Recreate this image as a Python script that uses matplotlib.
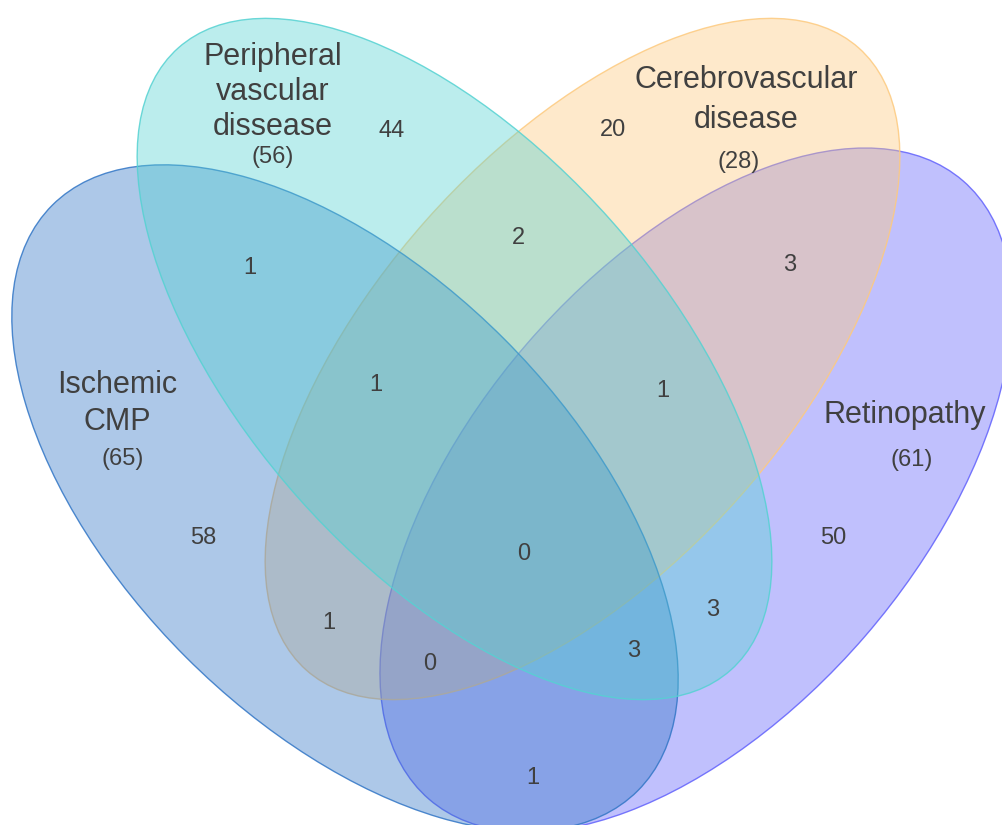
import matplotlib
matplotlib.use('Agg')
import matplotlib.pyplot as plt
from matplotlib.patches import Ellipse
from matplotlib.colors import to_rgba

plt.rcParams['font.family'] = ['Liberation Sans', 'DejaVu Sans']

# data
set_names = [['Ischemic', 'CMP'], ['Peripheral', 'vascular', 'dissease'],
             ['Cerebrovascular', 'disease'], ['Retinopathy']]
set_totals = [65, 56, 28, 61]
# I=Ischemic CMP, P=Peripheral, C=Cerebrovascular, R=Retinopathy
region_keys = ['I', 'P', 'C', 'R', 'IP', 'PC', 'CR', 'IC', 'PR', 'IR',
               'IPC', 'PCR', 'ICR', 'IPR', 'IPCR']
region_counts = [58, 44, 20, 50, 1, 2, 3, 1, 3, 1, 1, 1, 0, 3, 0]

# layout (pixel space, y down)
set_colors = ['#3276c6', '#55d2d2', '#fdca7f', '#6262fc']
ellipses = [((345, 498), 828, 450, 45),
            ((454.5, 359), 832, 418, 48.4),
            ((582.5, 359), 832, 418, -48.4),
            ((696, 490), 817, 447, -49.2)]
draw_order = [3, 2, 0, 1]
name_x = [117, 273, 746, 905]
name_base = [[393, 430], [65, 100, 135], [88, 128], [423]]
total_pos = [(123, 465), (273, 163), (739, 168), (912, 466)]
region_pos = {'I': (203, 538), 'P': (392, 131), 'C': (613, 130), 'R': (833, 538),
              'IP': (250, 268), 'PC': (518, 238), 'CR': (790, 265),
              'IC': (329, 623), 'PR': (713, 610), 'IR': (533, 778),
              'IPC': (376, 385), 'PCR': (663, 391), 'ICR': (430, 664),
              'IPR': (634, 651), 'IPCR': (524, 554)}

fig = plt.figure(figsize=(10.03, 8.25), dpi=100)
ax = fig.add_axes([0, 0, 1, 1])
ax.set_xlim(0, 1003)
ax.set_ylim(825, 0)
ax.axis('off')

for i in draw_order:
    c, w, h, ang = ellipses[i]
    col = set_colors[i]
    ax.add_patch(Ellipse(c, w, h, angle=ang, facecolor=to_rgba(col, 0.4),
                         edgecolor=to_rgba(col, 0.85), lw=1.0))

txt = '#404040'
for lines, x, bases in zip(set_names, name_x, name_base):
    for line, y in zip(lines, bases):
        ax.text(x, y, line, ha='center', va='baseline', fontsize=22, color=txt)
for tot, p in zip(set_totals, total_pos):
    ax.text(p[0], p[1], '(%d)' % tot, ha='center', va='baseline', fontsize=17,
            color=txt)
for k, n in zip(region_keys, region_counts):
    x, y = region_pos[k]
    ax.text(x, y, str(n), ha='center', va='center', fontsize=17, color=txt)

fig.savefig('out.png', dpi=100)
